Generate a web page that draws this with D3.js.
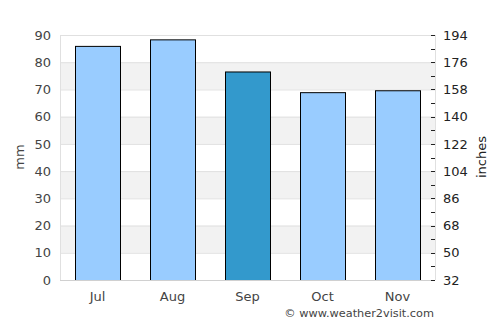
<!DOCTYPE html>
<html><head><meta charset="utf-8">
<script src="https://cdn.jsdelivr.net/npm/d3@7"></script>
<style>body{margin:0;background:#fff}svg{display:block;font-family:"DejaVu Sans",sans-serif}</style>
</head><body>
<svg id="c" width="500" height="325"></svg>
<script>
const months = ["Jul","Aug","Sep","Oct","Nov"];
const rainfall = [86, 88.4, 76.6, 69, 69.7];
const highlight = ["Sep"];
const leftTicks = [0,10,20,30,40,50,60,70,80,90];
const rightTicks = [32,50,68,86,104,122,140,158,176,194];
const rightMinor = [41,59,77,95,113,131,149,167,185];

const svg = d3.select("#c");
const L = 60, R = 435, T = 35, B = 280;
const x = d3.scaleBand().domain(months).range([L, R]).paddingInner(0.4).paddingOuter(0.2);
const y = d3.scaleLinear().domain([0, 90]).range([B, T]);
const y2 = d3.scaleLinear().domain([32, 194]).range([B, T]);

// bands
const bands = [[10,20],[30,40],[50,60],[70,80]];
svg.selectAll("rect.band").data(bands).enter().append("rect")
  .attr("x", L).attr("width", R - L)
  .attr("y", d => y(d[1])).attr("height", d => y(d[0]) - y(d[1]))
  .attr("fill", "#f2f2f2");
// grid
svg.selectAll("line.grid").data(leftTicks.slice(1)).enter().append("line")
  .attr("x1", L).attr("x2", R).attr("y1", d => y(d) + 0.5).attr("y2", d => y(d) + 0.5)
  .attr("stroke", "#e0e0e0");
// frame
svg.append("line").attr("x1", L + 0.5).attr("x2", L + 0.5).attr("y1", T).attr("y2", B).attr("stroke", "#e0e0e0");
svg.append("line").attr("x1", R + 0.5).attr("x2", R + 0.5).attr("y1", T).attr("y2", B).attr("stroke", "#e0e0e0");

// bars
svg.selectAll("rect.bar").data(months).enter().append("rect")
  .attr("x", d => x(d) + 0.5).attr("width", x.bandwidth())
  .attr("y", (d, i) => y(rainfall[i]) + 0.5).attr("height", (d, i) => y(0) - y(rainfall[i]))
  .attr("fill", d => highlight.includes(d) ? "#3399cc" : "#99ccff")
  .attr("stroke", "#000").attr("stroke-width", 1);

// bottom axis line
svg.append("line").attr("x1", L).attr("x2", R).attr("y1", B + 0.5).attr("y2", B + 0.5).attr("stroke", "#d0d0d0");

// left axis
const ga = svg.append("g").attr("transform", `translate(${L},0)`)
  .call(d3.axisLeft(y).tickValues(leftTicks).tickSize(0).tickPadding(9));
ga.select(".domain").remove();
ga.selectAll("text").attr("font-size", 13).attr("fill", "#444").attr("font-family", "DejaVu Sans");

// right axis
const gr = svg.append("g").attr("transform", `translate(${R},0)`)
  .call(d3.axisRight(y2).tickValues(rightTicks).tickSize(0).tickPadding(8));
gr.select(".domain").remove();
gr.selectAll("text").attr("font-size", 13).attr("fill", "#222").attr("font-family", "DejaVu Sans");
svg.selectAll("line.rt").data(rightTicks.concat(rightMinor)).enter().append("line")
  .attr("x1", R - 4).attr("x2", R).attr("y1", d => Math.round(y2(d)) + 0.5).attr("y2", d => Math.round(y2(d)) + 0.5)
  .attr("stroke", "#222");

// x axis
const gx = svg.append("g").attr("transform", `translate(0,${B})`)
  .call(d3.axisBottom(x).tickSize(0).tickPadding(12));
gx.select(".domain").remove();
gx.selectAll("text").attr("font-size", 13).attr("fill", "#444").attr("font-family", "DejaVu Sans");

// axis titles
svg.append("text").attr("transform", "translate(24,157) rotate(-90)").attr("text-anchor", "middle")
  .attr("font-size", 13).attr("fill", "#444").text("mm");
svg.append("text").attr("transform", "translate(486,157) rotate(-90)").attr("text-anchor", "middle")
  .attr("font-size", 13).attr("fill", "#222").text("inches");

svg.append("text").attr("x", 434).attr("y", 317).attr("text-anchor", "end")
  .attr("font-size", 11.3).attr("fill", "#444").text("© www.weather2visit.com");
</script>
</body></html>
